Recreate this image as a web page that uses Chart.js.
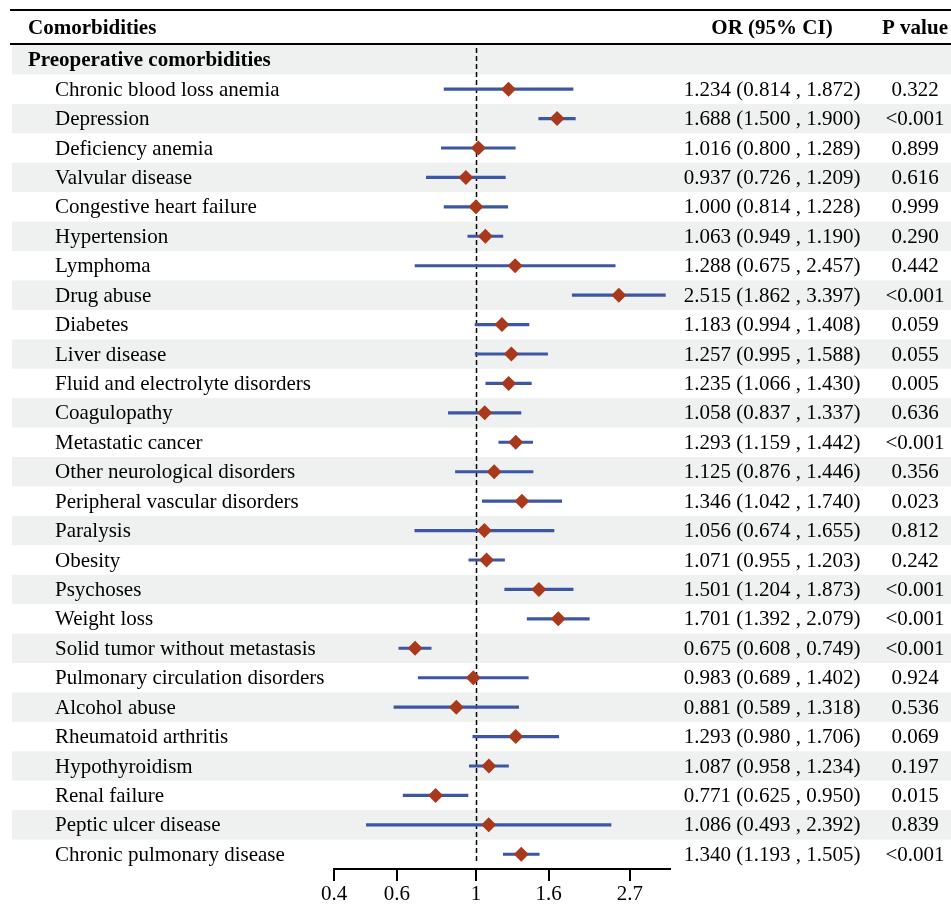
<!DOCTYPE html>
<html>
<head>
<meta charset="utf-8">
<script src="https://cdn.jsdelivr.net/npm/chart.js@4"></script>
<style>
  html, body { margin: 0; padding: 0; background: #fff; }
  #wrap { width: 951px; height: 905px; position: relative; }
</style>
</head>
<body>
<div id="wrap"><canvas id="forest" width="951" height="905"></canvas></div>
<script>
// rows of the table, first one is the group heading
const groupTitle = 'Preoperative comorbidities';
const categories = [
  'Chronic blood loss anemia', 'Depression', 'Deficiency anemia', 'Valvular disease',
  'Congestive heart failure', 'Hypertension', 'Lymphoma', 'Drug abuse', 'Diabetes',
  'Liver disease', 'Fluid and electrolyte disorders', 'Coagulopathy', 'Metastatic cancer',
  'Other neurological disorders', 'Peripheral vascular disorders', 'Paralysis', 'Obesity',
  'Psychoses', 'Weight loss', 'Solid tumor without metastasis', 'Pulmonary circulation disorders',
  'Alcohol abuse', 'Rheumatoid arthritis', 'Hypothyroidism', 'Renal failure',
  'Peptic ulcer disease', 'Chronic pulmonary disease'
];
const oddsRatio = [1.234, 1.688, 1.016, 0.937, 1.000, 1.063, 1.288, 2.515, 1.183, 1.257, 1.235,
  1.058, 1.293, 1.125, 1.346, 1.056, 1.071, 1.501, 1.701, 0.675, 0.983, 0.881, 1.293, 1.087,
  0.771, 1.086, 1.340];
const ciLow = [0.814, 1.500, 0.800, 0.726, 0.814, 0.949, 0.675, 1.862, 0.994, 0.995, 1.066,
  0.837, 1.159, 0.876, 1.042, 0.674, 0.955, 1.204, 1.392, 0.608, 0.689, 0.589, 0.980, 0.958,
  0.625, 0.493, 1.193];
const ciHigh = [1.872, 1.900, 1.289, 1.209, 1.228, 1.190, 2.457, 3.397, 1.408, 1.588, 1.430,
  1.337, 1.442, 1.446, 1.740, 1.655, 1.203, 1.873, 2.079, 0.749, 1.402, 1.318, 1.706, 1.234,
  0.950, 2.392, 1.505];
const pValues = ['0.322', '<0.001', '0.899', '0.616', '0.999', '0.290', '0.442', '<0.001', '0.059',
  '0.055', '0.005', '0.636', '<0.001', '0.356', '0.023', '0.812', '0.242', '<0.001', '<0.001',
  '<0.001', '0.924', '0.536', '0.069', '0.197', '0.015', '0.839', '<0.001'];
const xTicks = [0.4, 0.6, 1, 1.6, 2.7];

const rows = [groupTitle].concat(categories);
const fmt = v => v.toFixed(3);

const FONT = '"Liberation Serif", "Times New Roman", serif';

const tablePlugin = {
  id: 'table',
  beforeDatasetsDraw(chart) {
    const { ctx, scales: { x, y } } = chart;
    const w = chart.width;
    const band = y.getPixelForValue(1) - y.getPixelForValue(0);
    ctx.save();
    ctx.fillStyle = '#eef1f0';
    rows.forEach((r, i) => {
      if (i % 2 === 0) {
        const cy = y.getPixelForValue(i);
        ctx.fillRect(12, cy - band / 2, w - 12, band);
      }
    });
    // reference line at OR = 1
    const x1 = Math.round(x.getPixelForValue(1)) + 0.5;
    ctx.strokeStyle = '#000';
    ctx.lineWidth = 1.5;
    ctx.setLineDash([5, 3]);
    ctx.beginPath();
    ctx.moveTo(x1, 48);
    ctx.lineTo(x1, 862);
    ctx.stroke();
    ctx.restore();
  },
  afterDraw(chart) {
    const { ctx, scales: { y } } = chart;
    const w = chart.width;
    ctx.save();
    ctx.fillStyle = '#000';
    ctx.fillRect(10, 9, w - 10, 2);
    ctx.fillRect(10, 43, w - 10, 2);

    ctx.textBaseline = 'middle';
    ctx.font = 'bold 21px ' + FONT;
    ctx.textAlign = 'left';
    ctx.fillText('Comorbidities', 28, 29);
    ctx.textAlign = 'center';
    ctx.fillText('OR (95% CI)', 772, 29);
    ctx.fillText('P value', 915, 29);
    ctx.textAlign = 'left';
    ctx.fillText(groupTitle, 28, y.getPixelForValue(0) + 1);

    ctx.font = '21px ' + FONT;
    categories.forEach((c, i) => {
      const cy = y.getPixelForValue(i + 1) + 1;
      ctx.textAlign = 'left';
      ctx.fillText(c, 55, cy);
      ctx.textAlign = 'center';
      ctx.fillText(fmt(oddsRatio[i]) + ' (' + fmt(ciLow[i]) + ' , ' + fmt(ciHigh[i]) + ')', 772, cy);
      ctx.fillText(pValues[i], 915, cy);
    });
    ctx.restore();
  }
};

new Chart(document.getElementById('forest'), {
  type: 'bar',
  data: {
    labels: rows,
    datasets: [
      {
        label: '95% CI',
        data: [null].concat(ciLow.map((lo, i) => [lo, ciHigh[i]])),
        backgroundColor: '#3c56a6',
        barThickness: 2.5,
        borderSkipped: false,
        order: 2
      },
      {
        label: 'OR',
        type: 'line',
        data: oddsRatio.map((v, i) => ({ x: v, y: categories[i] })),
        showLine: false,
        pointStyle: 'rectRot',
        pointRadius: 7.5,
        pointHoverRadius: 7.5,
        pointBackgroundColor: '#a8391c',
        pointBorderWidth: 0,
        order: 1
      }
    ]
  },
  options: {
    indexAxis: 'y',
    responsive: false,
    animation: false,
    events: [],
    layout: { padding: { left: 334, right: 281, top: 45, bottom: -3 } },
    plugins: { legend: { display: false }, tooltip: { enabled: false } },
    scales: {
      x: {
        type: 'logarithmic',
        min: 0.4,
        max: 3.5,
        afterBuildTicks(axis) { axis.ticks = xTicks.map(v => ({ value: v })); },
        ticks: {
          color: '#000',
          padding: 3,
          font: { family: FONT, size: 21, lineHeight: 1 },
          callback: v => String(v)
        },
        grid: { drawOnChartArea: false, drawTicks: true, tickLength: 12, color: '#000', lineWidth: 2 },
        border: { display: true, color: '#000', width: 2 }
      },
      y: {
        type: 'category',
        labels: rows,
        display: false,
        offset: true,
        grid: { display: false }
      }
    }
  },
  plugins: [tablePlugin]
});
</script>
</body>
</html>
